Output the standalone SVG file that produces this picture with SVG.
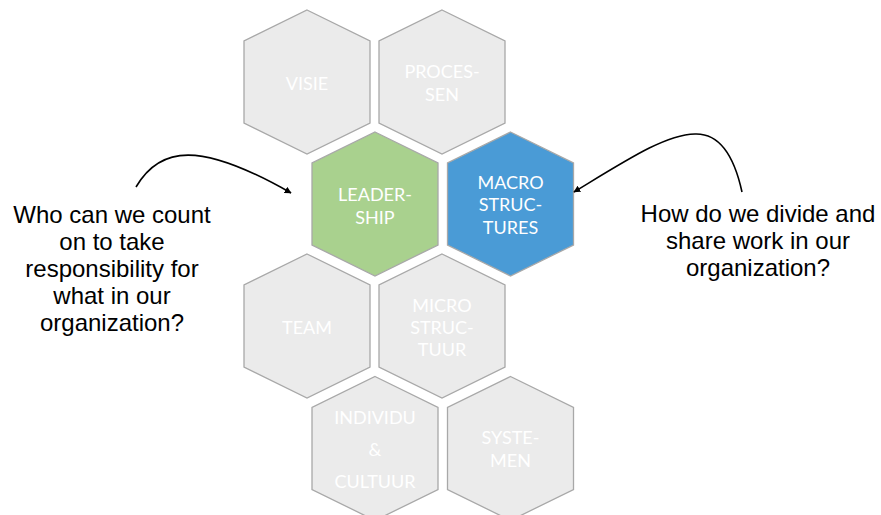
<svg xmlns="http://www.w3.org/2000/svg" width="881" height="515" viewBox="0 0 881 515">
<defs>
<style>
.hex{stroke:#A8A8A8;stroke-width:1.3}
.gray{fill:#EBEBEB}
.green{fill:#A9D18E}
.blue{fill:#4A9BD6}
.ht{font-family:Lato,"Open Sans",sans-serif;font-size:18px;fill:#FFFFFF;text-anchor:middle}
.q{font-family:"Liberation Sans",Arial,sans-serif;font-size:24px;fill:#000000;text-anchor:middle}
.conn{fill:none;stroke:#000000;stroke-width:1.6}
</style>
<marker id="ah" viewBox="0 0 10 10" refX="9" refY="5" markerWidth="7" markerHeight="7" markerUnits="userSpaceOnUse" orient="auto">
<path d="M0,0 L10,5 L0,10 z" fill="#000000"/>
</marker>
<path id="hx" d="M0,-72 L63,-41 L63,41 L0,72 L-63,41 L-63,-41 Z"/>
</defs>
<rect width="881" height="515" fill="#FFFFFF"/>
<g id="visie"><use href="#hx" x="307" y="82" class="hex gray"/><text class="ht" x="307" y="90">VISIE</text></g>
<g id="processen"><use href="#hx" x="442" y="82" class="hex gray"/><text class="ht" x="442" y="78">PROCES-</text><text class="ht" x="442" y="101">SEN</text></g>
<g id="leadership"><use href="#hx" x="375" y="204" class="hex green"/><text class="ht" x="375" y="201">LEADER-</text><text class="ht" x="375" y="223.5">SHIP</text></g>
<g id="macro"><use href="#hx" x="510.5" y="204" class="hex blue"/><text class="ht" x="510.5" y="188.5">MACRO</text><text class="ht" x="510.5" y="211">STRUC-</text><text class="ht" x="510.5" y="233.5">TURES</text></g>
<g id="team"><use href="#hx" x="307" y="326" class="hex gray"/><text class="ht" x="307" y="333.5">TEAM</text></g>
<g id="micro"><use href="#hx" x="442" y="326" class="hex gray"/><text class="ht" x="442" y="311.5">MICRO</text><text class="ht" x="442" y="334">STRUC-</text><text class="ht" x="442" y="356">TUUR</text></g>
<g id="individu"><use href="#hx" x="375" y="448.5" class="hex gray"/><text class="ht" x="375" y="424">INDIVIDU</text><text class="ht" x="375" y="456">&amp;</text><text class="ht" x="375" y="487.5">CULTUUR</text></g>
<g id="systemen"><use href="#hx" x="510.5" y="448.5" class="hex gray"/><text class="ht" x="510.5" y="444">SYSTE-</text><text class="ht" x="510.5" y="467">MEN</text></g>
<g id="q-left"><text class="q" x="112" y="222.5">Who can we count</text><text class="q" x="112" y="249.7">on to take</text><text class="q" x="112" y="276.9">responsibility for</text><text class="q" x="112" y="304.1">what in our</text><text class="q" x="112" y="331.3">organization?</text></g>
<g id="q-right"><text class="q" x="758" y="222">How do we divide and</text><text class="q" x="758" y="249">share work in our</text><text class="q" x="758" y="276">organization?</text></g>
<g id="connectors">
<path class="conn" d="M136,187 C160,146 200,141 291,193" marker-end="url(#ah)"/>
<path class="conn" d="M742,192 C735,160 722,133 695,134 C665,135 630,158 574,192" marker-end="url(#ah)"/>
</g>
</svg>
